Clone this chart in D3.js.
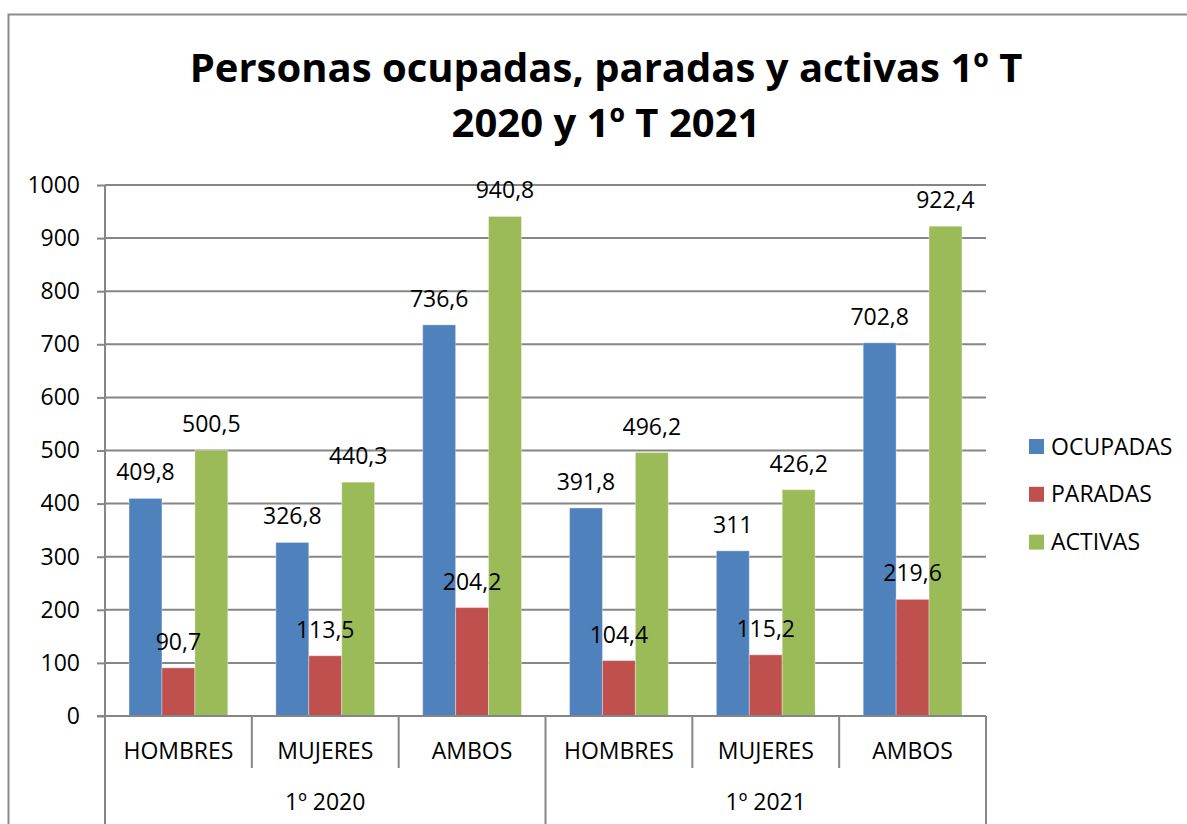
<!DOCTYPE html>
<html>
<head>
<meta charset="utf-8">
<script src="https://cdn.jsdelivr.net/npm/d3@7/dist/d3.min.js"></script>
<style>
  body { margin: 0; background: #fff; }
  svg { display: block; font-family: "Open Sans", sans-serif; }
</style>
</head>
<body>
<svg id="chart" width="1187" height="824"></svg>
<script>
// chart values
var periods = ["1º 2020", "1º 2021"];
var groups = ["HOMBRES", "MUJERES", "AMBOS"];
var seriesNames = ["OCUPADAS", "PARADAS", "ACTIVAS"];
var ocupadas = [409.8, 326.8, 736.6, 391.8, 311, 702.8];
var paradas = [90.7, 113.5, 204.2, 104.4, 115.2, 219.6];
var activas = [500.5, 440.3, 940.8, 496.2, 426.2, 922.4];
var yTicks = [0, 100, 200, 300, 400, 500, 600, 700, 800, 900, 1000];
var colors = ["#4f81bd", "#c0504d", "#9bbb59"];

var series = [ocupadas, paradas, activas];
var cats = d3.range(periods.length * groups.length);

var svg = d3.select("#chart");
// plot area (note: "top" is taken by window.top)
var plotL = 105, plotR = 986, plotT = 185, plotB = 716;
var gray = "#868686";

var es = d3.formatLocale({decimal: ",", thousands: ".", grouping: [3], currency: ["", " €"]});
var fmt = function(v) { return es.format("~f")(v); };

// outer border of the chart
svg.append("rect")
    .attr("x", 8.5).attr("y", 14.5)
    .attr("width", 1300).attr("height", 1000)
    .attr("fill", "none")
    .attr("stroke", "#8c8c8c")
    .attr("stroke-width", 2);

// title
var title = svg.append("text")
    .attr("text-anchor", "middle")
    .style("font-size", "40px")
    .style("font-weight", "bold")
    .attr("fill", "#000");
title.append("tspan").attr("x", 606).attr("y", 82).text("Personas ocupadas, paradas y activas 1º T");
title.append("tspan").attr("x", 606).attr("y", 137).text("2020 y 1º T 2021");

var x = d3.scaleBand().domain(cats).range([plotL, plotR]);
var xInner = d3.scaleBand().domain(d3.range(series.length))
    .range([0, x.bandwidth()])
    .paddingInner(0)
    .paddingOuter(0.73);
var y = d3.scaleLinear().domain([0, 1000]).range([plotB, plotT]);

// gridlines
svg.append("g")
    .selectAll("line")
    .data(yTicks.slice(1))
    .enter().append("line")
    .attr("x1", plotL).attr("x2", plotR)
    .attr("y1", function(d) { return y(d); })
    .attr("y2", function(d) { return y(d); })
    .attr("stroke", gray)
    .attr("stroke-width", 2);

// y axis
var yAxis = svg.append("g")
    .attr("transform", "translate(" + plotL + ",0)")
    .call(d3.axisLeft(y).tickValues(yTicks).tickSize(8).tickPadding(17).tickFormat(d3.format("d")));
yAxis.select(".domain").remove();
yAxis.selectAll(".tick line").attr("stroke", gray).attr("stroke-width", 2);
yAxis.selectAll(".tick text")
    .style("font-size", "23px")
    .style("font-family", "Open Sans")
    .attr("fill", "#000");

// bars
series.forEach(function(vals, s) {
    svg.append("g")
        .selectAll("rect")
        .data(vals)
        .enter().append("rect")
        .attr("x", function(d, i) { return x(i) + xInner(s); })
        .attr("y", function(d) { return y(d); })
        .attr("width", xInner.bandwidth())
        .attr("height", function(d) { return y(0) - y(d); })
        .attr("fill", colors[s])
        .attr("stroke", "#fff")
        .attr("stroke-opacity", 0.35)
        .attr("stroke-width", 1);
});

// value labels, drawn after all bars so they sit on top
series.forEach(function(vals, s) {
    svg.append("g")
        .selectAll("text")
        .data(vals)
        .enter().append("text")
        .attr("x", function(d, i) { return x(i) + xInner(s) + xInner.bandwidth() / 2; })
        .attr("y", function(d) { return y(d) - 18; })
        .attr("text-anchor", "middle")
        .style("font-size", "23px")
        .text(function(d) { return fmt(d); });
});

// x axis: baseline, category separators, group separators
svg.append("line")
    .attr("x1", plotL - 8).attr("x2", plotR)
    .attr("y1", plotB).attr("y2", plotB)
    .attr("stroke", gray).attr("stroke-width", 2);

svg.append("g")
    .selectAll("line")
    .data(d3.range(cats.length + 1))
    .enter().append("line")
    .attr("x1", function(i) { return i < cats.length ? x(i) : plotR; })
    .attr("x2", function(i) { return i < cats.length ? x(i) : plotR; })
    .attr("y1", plotB)
    .attr("y2", function(i) { return i % groups.length === 0 ? 830 : 768; })
    .attr("stroke", gray)
    .attr("stroke-width", 2);

// left axis line
svg.append("line")
    .attr("x1", plotL).attr("x2", plotL)
    .attr("y1", plotT).attr("y2", plotB)
    .attr("stroke", gray).attr("stroke-width", 2);

svg.append("g")
    .selectAll("text")
    .data(cats)
    .enter().append("text")
    .attr("x", function(i) { return x(i) + x.bandwidth() / 2; })
    .attr("y", 759)
    .attr("text-anchor", "middle")
    .style("font-size", "23px")
    .text(function(i) { return groups[i % groups.length]; });

svg.append("g")
    .selectAll("text")
    .data(periods)
    .enter().append("text")
    .attr("x", function(d, p) {
        return (x(p * groups.length) + x(p * groups.length + groups.length - 1) + x.bandwidth()) / 2;
    })
    .attr("y", 810)
    .attr("text-anchor", "middle")
    .style("font-size", "23px")
    .text(function(d) { return d; });

// legend
var legend = svg.append("g")
    .selectAll("g")
    .data(seriesNames)
    .enter().append("g")
    .attr("transform", function(d, i) { return "translate(1029," + (446.5 + i * 47.8) + ")"; });
legend.append("rect")
    .attr("x", 0).attr("y", -7.5)
    .attr("width", 15).attr("height", 15)
    .attr("fill", function(d, i) { return colors[i]; });
legend.append("text")
    .attr("x", 22).attr("y", 8)
    .style("font-size", "23px")
    .text(function(d) { return d; });
</script>
</body>
</html>
